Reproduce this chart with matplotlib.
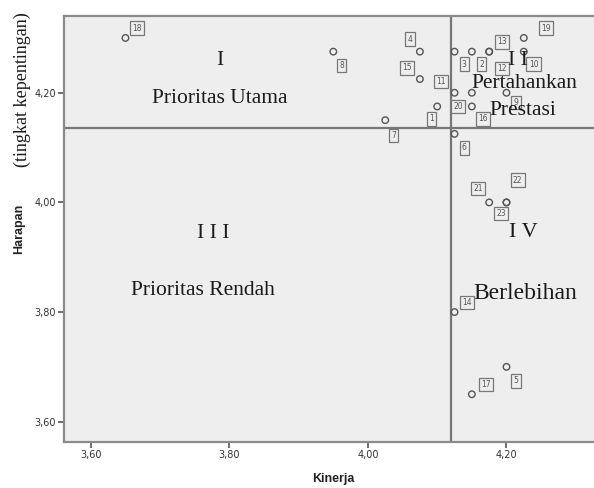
import matplotlib

matplotlib.use("Agg")
import matplotlib.pyplot as plt
from matplotlib.ticker import FuncFormatter

# responden / atribut: kinerja (x) vs harapan (y)
labels = ["1", "2", "3", "4", "5", "6", "7", "8", "9", "10", "11", "12",
          "13", "14", "15", "16", "17", "18", "19", "20", "21", "22", "23"]
kinerja = [4.10, 4.15, 4.125, 4.075, 4.20, 4.125, 4.025, 3.95, 4.20, 4.225, 4.125, 4.175,
           4.175, 4.125, 4.075, 4.15, 4.15, 3.65, 4.225, 4.15, 4.175, 4.20, 4.20]
harapan = [4.175, 4.275, 4.275, 4.275, 3.70, 4.125, 4.15, 4.275, 4.20, 4.275, 4.20, 4.275,
           4.275, 3.80, 4.225, 4.175, 3.65, 4.30, 4.30, 4.20, 4.00, 4.00, 4.00]
mean_kinerja = 4.12
mean_harapan = 4.135
ticks = [3.60, 3.80, 4.00, 4.20]

# label box offsets (points)
offsets = [(-4, -9), (7, -9), (7, -9), (-7, 9), (7, -10), (7, -10), (6, -11), (6, -10),
           (7, -7), (7, -9), (-10, 8), (9, -12), (9, 7), (9, 7), (-9, 8), (8, -9),
           (10, 7), (8, 7), (16, 7), (-10, -10), (-8, 10), (8, 16), (-4, -8)]

fig = plt.figure(figsize=(5.94, 4.88), dpi=100)
ax = fig.add_axes([0.1082, 0.0949, 0.8918, 0.8723])
ax.set_facecolor("#eeeeee")
ax.set_xlim(3.5617, 4.3263)
ax.set_ylim(3.5635, 4.340)

for side in ("left", "bottom", "top"):
    ax.spines[side].set_color("#8a8a8a")
    ax.spines[side].set_linewidth(1.6)
ax.spines["right"].set_visible(False)

ax.set_xticks(ticks)
ax.set_yticks(ticks)
fmt = FuncFormatter(lambda v, p: f"{v:.2f}".replace(".", ","))
ax.xaxis.set_major_formatter(fmt)
ax.yaxis.set_major_formatter(fmt)
ax.tick_params(direction="out", length=4, width=1.2, color="#555555",
               labelsize=7, labelcolor="#333333", pad=2)

ax.axvline(mean_kinerja, color="#777777", lw=1.6, zorder=2)
ax.axhline(mean_harapan, color="#777777", lw=1.6, zorder=2)

ax.scatter(kinerja, harapan, s=22, facecolors="none", edgecolors="#555555",
           linewidths=1.0, zorder=3)
for lab, xv, yv, off in zip(labels, kinerja, harapan, offsets):
    ax.annotate(lab, (xv, yv), xytext=off, textcoords="offset points",
                ha="center", va="center", fontsize=5.5, color="#555555",
                bbox=dict(boxstyle="square,pad=0.3", fc="#eeeeee", ec="#777777", lw=0.9),
                zorder=4)

serif = dict(family="Liberation Serif", color="#1a1a1a", ha="center", va="center", zorder=5)
ax.text(3.7865, 4.2596, "I", fontsize=15.5, **serif)
ax.text(3.7865, 4.190, "Prioritas Utama", fontsize=15.5, **serif)
ax.text(3.7764, 3.944, "I I I", fontsize=15.5, **serif)
ax.text(3.7619, 3.840, "Prioritas Rendah", fontsize=15.5, **serif)
ax.text(4.2166, 4.2596, "I I", fontsize=15.5, **serif)
ax.text(4.2253, 4.2177, "Pertahankan", fontsize=15.5, **serif)
ax.text(4.2239, 4.1684, "Prestasi", fontsize=15.5, **serif)
ax.text(4.2239, 3.9456, "I V", fontsize=16, **serif)
ax.text(4.2268, 3.8345, "Berlebihan", fontsize=17, **serif)

fig.text(333 / 594, 1 - 479 / 488, "Kinerja", ha="center", va="center",
         family="Liberation Sans", fontweight="bold", fontsize=9, color="#222222")
fig.text(19.5 / 594, 1 - 229 / 488, "Harapan", ha="center", va="center", rotation=90,
         family="Liberation Sans", fontweight="bold", fontsize=9, color="#222222")
fig.text(22.5 / 594, 1 - 90 / 488, "(tingkat kepentingan)", ha="center", va="center",
         rotation=90, family="Liberation Serif", fontsize=13, color="#1a1a1a")

fig.savefig("out.png", dpi=100)
